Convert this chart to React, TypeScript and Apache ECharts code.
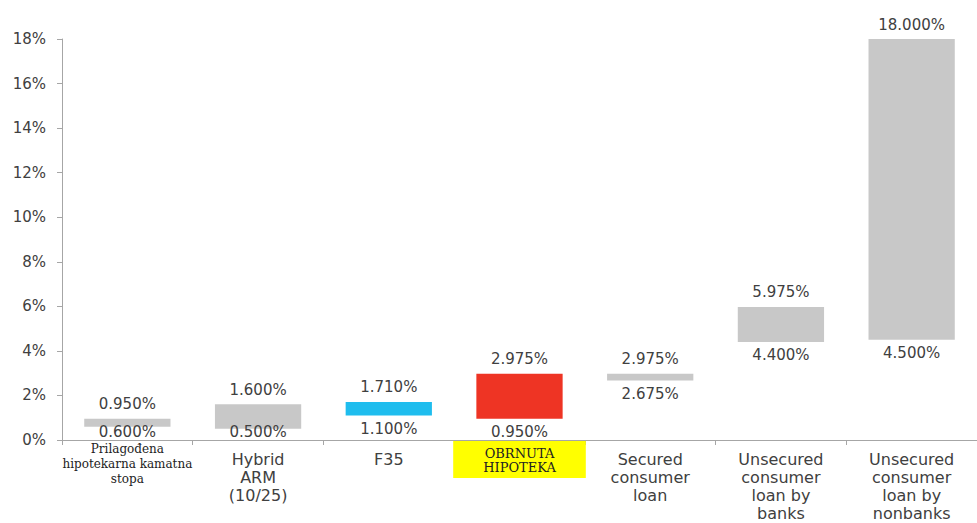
import React, { useEffect, useRef } from "react";
import * as echarts from "echarts";

const categories = [
  "Prilagođena\nhipotekarna kamatna\nstopa",
  "Hybrid\nARM\n(10/25)",
  "F35",
  "OBRNUTA\nHIPOTEKA",
  "Secured\nconsumer\nloan",
  "Unsecured\nconsumer\nloan by\nbanks",
  "Unsecured\nconsumer\nloan by\nnonbanks",
];
const lowValues = [0.6, 0.5, 1.1, 0.95, 2.675, 4.4, 4.5];
const highValues = [0.95, 1.6, 1.71, 2.975, 2.975, 5.975, 18];
const barColors = ["#c8c8c8", "#c8c8c8", "#1fbdee", "#ee3424", "#c8c8c8", "#c8c8c8", "#c8c8c8"];
const yTicks = { min: 0, max: 18, interval: 2 };

const SANS = "DejaVu Sans";
const SERIF = "DejaVu Serif";
const AXIS_Y = 440;

export default function App() {
  const ref = useRef<HTMLDivElement>(null);
  useEffect(() => {
    if (!ref.current) return;
    const chart = echarts.init(ref.current, undefined, { renderer: "svg" });
    const axisData = categories.map((c, i) => {
      if (i === 0) {
        return {
          value: c,
          textStyle: { fontFamily: SERIF, fontSize: 12, lineHeight: 15, color: "#222", padding: [0, 0, 0, 0] },
        };
      }
      if (i === 3) {
        return {
          value: c,
          textStyle: {
            fontFamily: SERIF,
            fontSize: 13,
            lineHeight: 14,
            color: "#222",
            backgroundColor: "#ffff00",
            padding: [5, 30, 4, 30],
          },
        };
      }
      return { value: c, textStyle: { padding: [9, 0, 0, 0] } };
    });
    chart.setOption({
      animation: false,
      grid: { left: 62, right: -12, top: 39, bottom: 83, containLabel: false },
      xAxis: {
        type: "category",
        data: axisData,
        axisLine: { lineStyle: { color: "#a6a6a6", width: 1 } },
        axisTick: { show: true, alignWithLabel: false, length: 5, lineStyle: { color: "#a6a6a6" } },
        axisLabel: {
          interval: 0,
          margin: 1,
          fontFamily: SANS,
          fontSize: 16,
          lineHeight: 18,
          color: "#404040",
        },
      },
      yAxis: {
        type: "value",
        min: yTicks.min,
        max: yTicks.max,
        interval: yTicks.interval,
        splitLine: { show: false },
        axisLine: { show: true, lineStyle: { color: "#a6a6a6", width: 1 } },
        axisTick: { show: true, length: 5, lineStyle: { color: "#a6a6a6" } },
        axisLabel: {
          formatter: "{value}%",
          fontFamily: SANS,
          fontSize: 15,
          color: "#404040",
          margin: 16,
        },
      },
      series: [
        {
          type: "bar",
          stack: "range",
          barWidth: "66%",
          itemStyle: { color: "transparent" },
          data: lowValues,
          label: {
            show: true,
            position: "insideTop",
            distance: 6,
            formatter: (p: any) => lowValues[p.dataIndex].toFixed(3) + "%",
            fontFamily: SANS,
            fontSize: 15,
            color: "#404040",
          },
          labelLayout: (params: any) => {
            const r = params.labelRect;
            const bottom = r.y + r.height;
            const limit = AXIS_Y - 1;
            return bottom > limit ? { dy: limit - bottom } : {};
          },
          emphasis: { disabled: true },
        },
        {
          type: "bar",
          stack: "range",
          barWidth: "66%",
          data: highValues.map((h, i) => ({
            value: h - lowValues[i],
            itemStyle: { color: barColors[i] },
          })),
          label: {
            show: true,
            position: "top",
            distance: 7,
            formatter: (p: any) => highValues[p.dataIndex].toFixed(3) + "%",
            fontFamily: SANS,
            fontSize: 15,
            color: "#404040",
          },
          emphasis: { disabled: true },
        },
      ],
    });
    return () => chart.dispose();
  }, []);
  return (
    <div
      ref={ref}
      style={{ position: "absolute", left: 0, top: 0, width: 977, height: 523, background: "#fff" }}
    />
  );
}
